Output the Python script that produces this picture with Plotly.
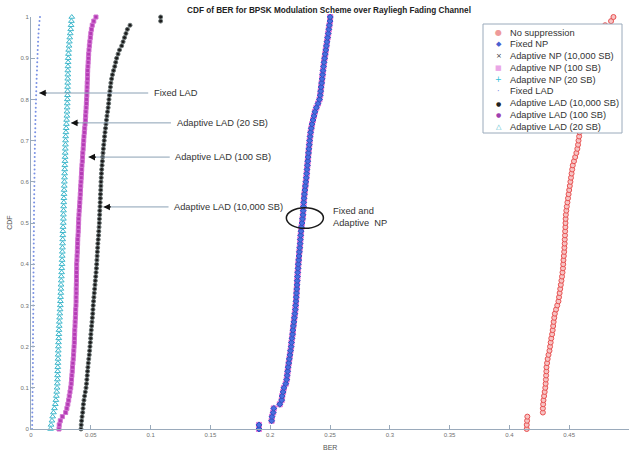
import plotly.graph_objects as go

# BER samples (sorted) for each scheme; the empirical CDF is built from them.
ber_no_suppression = [
    0.4145, 0.4145, 0.4148, 0.4150, 0.4280, 0.4280, 0.4282, 0.4285, 0.4290, 0.4295,
    0.4300, 0.4303, 0.4305, 0.4307, 0.4309, 0.4310, 0.4315, 0.4320, 0.4327, 0.4335,
    0.4340, 0.4345, 0.4350, 0.4357, 0.4362, 0.4366, 0.4370, 0.4375, 0.4380, 0.4390,
    0.4400, 0.4410, 0.4415, 0.4420, 0.4425, 0.4430, 0.4435, 0.4440, 0.4444, 0.4448,
    0.4450, 0.4452, 0.4455, 0.4458, 0.4460, 0.4462, 0.4463, 0.4465, 0.4466, 0.4468,
    0.4469, 0.4470, 0.4472, 0.4476, 0.4480, 0.4485, 0.4490, 0.4495, 0.4500, 0.4505,
    0.4510, 0.4515, 0.4520, 0.4525, 0.4530, 0.4540, 0.4550, 0.4560, 0.4568, 0.4574,
    0.4578, 0.4583, 0.4587, 0.4590, 0.4594, 0.4598, 0.4602, 0.4606, 0.4610, 0.4614,
    0.4618, 0.4622, 0.4626, 0.4630, 0.4634, 0.4638, 0.4642, 0.4646, 0.4650, 0.4655,
    0.4660, 0.4665, 0.4670, 0.4676, 0.4682, 0.4690, 0.4700, 0.4720, 0.4800, 0.4850,
    0.4870,
]

# Fixed and adaptive NP give practically the same BER distribution
ber_np = [
    0.1906, 0.1906, 0.2012, 0.2015, 0.2025, 0.2030, 0.2080, 0.2096, 0.2100, 0.2108,
    0.2115, 0.2130, 0.2138, 0.2142, 0.2146, 0.2150, 0.2155, 0.2160, 0.2165, 0.2170,
    0.2175, 0.2178, 0.2182, 0.2187, 0.2190, 0.2194, 0.2198, 0.2202, 0.2206, 0.2210,
    0.2213, 0.2216, 0.2218, 0.2220, 0.2222, 0.2224, 0.2226, 0.2228, 0.2230, 0.2233,
    0.2235, 0.2238, 0.2241, 0.2244, 0.2247, 0.2250, 0.2252, 0.2255, 0.2258, 0.2261,
    0.2266, 0.2270, 0.2274, 0.2276, 0.2278, 0.2280, 0.2283, 0.2286, 0.2290, 0.2294,
    0.2298, 0.2302, 0.2305, 0.2308, 0.2311, 0.2314, 0.2317, 0.2320, 0.2323, 0.2327,
    0.2330, 0.2334, 0.2338, 0.2344, 0.2350, 0.2358, 0.2366, 0.2374, 0.2386, 0.2400,
    0.2412, 0.2418, 0.2422, 0.2426, 0.2430, 0.2434, 0.2438, 0.2442, 0.2446, 0.2450,
    0.2455, 0.2460, 0.2465, 0.2470, 0.2475, 0.2480, 0.2485, 0.2490, 0.2495, 0.2500,
    0.2502,
]

ber_fixed_lad = [
    0.0009, 0.0010, 0.0010, 0.0011, 0.0011, 0.0012, 0.0012, 0.0012, 0.0013, 0.0013,
    0.0014, 0.0014, 0.0014, 0.0015, 0.0015, 0.0015, 0.0016, 0.0016, 0.0016, 0.0016,
    0.0017, 0.0017, 0.0017, 0.0017, 0.0018, 0.0018, 0.0018, 0.0018, 0.0019, 0.0019,
    0.0019, 0.0019, 0.0020, 0.0020, 0.0020, 0.0020, 0.0021, 0.0021, 0.0021, 0.0021,
    0.0022, 0.0022, 0.0022, 0.0022, 0.0023, 0.0023, 0.0023, 0.0023, 0.0024, 0.0024,
    0.0024, 0.0025, 0.0025, 0.0025, 0.0026, 0.0026, 0.0026, 0.0027, 0.0027, 0.0028,
    0.0028, 0.0029, 0.0029, 0.0030, 0.0030, 0.0031, 0.0031, 0.0032, 0.0032, 0.0033,
    0.0034, 0.0034, 0.0035, 0.0036, 0.0036, 0.0037, 0.0038, 0.0039, 0.0040, 0.0041,
    0.0042, 0.0043, 0.0044, 0.0045, 0.0046, 0.0047, 0.0048, 0.0050, 0.0051, 0.0052,
    0.0054, 0.0055, 0.0056, 0.0058, 0.0059, 0.0061, 0.0063, 0.0065, 0.0068, 0.0071,
    0.0075,
]

ber_lad_10000 = [
    0.0418, 0.0420, 0.0423, 0.0427, 0.0432, 0.0435, 0.0438, 0.0443, 0.0448, 0.0454,
    0.0460, 0.0464, 0.0467, 0.0470, 0.0473, 0.0476, 0.0479, 0.0483, 0.0487, 0.0490,
    0.0493, 0.0496, 0.0499, 0.0501, 0.0504, 0.0507, 0.0510, 0.0513, 0.0516, 0.0518,
    0.0520, 0.0523, 0.0526, 0.0529, 0.0532, 0.0535, 0.0538, 0.0541, 0.0544, 0.0547,
    0.0549, 0.0551, 0.0553, 0.0555, 0.0557, 0.0559, 0.0562, 0.0565, 0.0567, 0.0569,
    0.0571, 0.0572, 0.0574, 0.0575, 0.0577, 0.0578, 0.0580, 0.0581, 0.0583, 0.0584,
    0.0585, 0.0587, 0.0589, 0.0591, 0.0594, 0.0597, 0.0599, 0.0602, 0.0605, 0.0608,
    0.0612, 0.0615, 0.0619, 0.0623, 0.0627, 0.0631, 0.0635, 0.0640, 0.0645, 0.0649,
    0.0652, 0.0656, 0.0660, 0.0664, 0.0668, 0.0674, 0.0681, 0.0690, 0.0700, 0.0708,
    0.0716, 0.0728, 0.0740, 0.0758, 0.0770, 0.0782, 0.0794, 0.0806, 0.0828, 0.1084,
    0.1084,
]

ber_lad_100 = [
    0.0234, 0.0236, 0.0245, 0.0262, 0.0290, 0.0300, 0.0308, 0.0315, 0.0320, 0.0326,
    0.0332, 0.0336, 0.0339, 0.0342, 0.0345, 0.0347, 0.0350, 0.0353, 0.0356, 0.0358,
    0.0360, 0.0362, 0.0363, 0.0365, 0.0366, 0.0368, 0.0369, 0.0371, 0.0373, 0.0374,
    0.0376, 0.0377, 0.0377, 0.0378, 0.0378, 0.0379, 0.0380, 0.0380, 0.0381, 0.0382,
    0.0382, 0.0384, 0.0385, 0.0387, 0.0388, 0.0390, 0.0391, 0.0393, 0.0395, 0.0396,
    0.0398, 0.0399, 0.0401, 0.0403, 0.0406, 0.0408, 0.0410, 0.0412, 0.0414, 0.0416,
    0.0418, 0.0420, 0.0422, 0.0424, 0.0426, 0.0429, 0.0431, 0.0433, 0.0436, 0.0438,
    0.0441, 0.0443, 0.0446, 0.0449, 0.0452, 0.0455, 0.0457, 0.0459, 0.0461, 0.0463,
    0.0465, 0.0467, 0.0468, 0.0469, 0.0470, 0.0472, 0.0473, 0.0474, 0.0476, 0.0478,
    0.0480, 0.0482, 0.0485, 0.0488, 0.0492, 0.0496, 0.0500, 0.0505, 0.0512, 0.0525,
    0.0543,
]

ber_lad_20 = [
    0.0164, 0.0168, 0.0175, 0.0181, 0.0188, 0.0196, 0.0203, 0.0208, 0.0212, 0.0215,
    0.0218, 0.0220, 0.0221, 0.0222, 0.0223, 0.0224, 0.0225, 0.0226, 0.0227, 0.0228,
    0.0229, 0.0230, 0.0232, 0.0233, 0.0234, 0.0236, 0.0237, 0.0239, 0.0241, 0.0243,
    0.0245, 0.0246, 0.0247, 0.0249, 0.0250, 0.0251, 0.0253, 0.0254, 0.0256, 0.0257,
    0.0259, 0.0260, 0.0261, 0.0262, 0.0263, 0.0264, 0.0265, 0.0266, 0.0267, 0.0268,
    0.0270, 0.0271, 0.0271, 0.0272, 0.0273, 0.0274, 0.0275, 0.0276, 0.0277, 0.0278,
    0.0279, 0.0280, 0.0281, 0.0282, 0.0283, 0.0284, 0.0285, 0.0286, 0.0287, 0.0288,
    0.0289, 0.0290, 0.0292, 0.0294, 0.0296, 0.0298, 0.0300, 0.0301, 0.0302, 0.0303,
    0.0304, 0.0305, 0.0306, 0.0306, 0.0307, 0.0307, 0.0308, 0.0308, 0.0309, 0.0310,
    0.0311, 0.0313, 0.0315, 0.0318, 0.0321, 0.0324, 0.0328, 0.0332, 0.0335, 0.0338,
    0.0341,
]

x_ticks = [0, 0.05, 0.1, 0.15, 0.2, 0.25, 0.3, 0.35, 0.4, 0.45, 0.5]
y_ticks = [0, 0.1, 0.2, 0.3, 0.4, 0.5, 0.6, 0.7, 0.8, 0.9, 1]

# callouts: (label, BER at arrow tip, CDF level, BER where the label starts)
callout_labels = ["Fixed LAD", "Adaptive LAD (20 SB)", "Adaptive LAD (100 SB)", "Adaptive LAD (10,000 SB)"]
callout_tip_ber = [0.0068, 0.0334, 0.0480, 0.0605]
callout_cdf = [0.8155, 0.743, 0.660, 0.539]
callout_text_ber = [0.101, 0.120, 0.119, 0.118]


def ecdf(samples):
    s = sorted(samples)
    n = len(s)
    return s, [i / (n - 1) for i in range(n)]


FONT = "Liberation Sans, Arial, sans-serif"
SYMBOL_FONT = "DejaVu Sans, sans-serif"
AXIS_COLOR = "#9aaabb"
TEXT_SIZE = 9.3

# plot area in pixels (for placing the hand-built legend)
PX_L, PX_R, PX_T, PX_B = 31, 629, 17, 429


def paper_x(px):
    return (px - PX_L) / (PX_R - PX_L)


def paper_y(py):
    return (PX_B - py) / (PX_B - PX_T)


fig = go.Figure()
legend_entries = []  # (name, glyph, glyph colour, glyph size)


def add(name, samples, marker, glyph):
    x, y = ecdf(samples)
    fig.add_trace(go.Scatter(
        x=x, y=y, mode="markers", name=name, marker=marker,
        showlegend=False, cliponaxis=False,
    ))
    legend_entries.append((name,) + glyph)


# NP family drawn underneath so the fixed NP diamonds stay on top
add("Adaptive NP (100 SB)", ber_np,
    dict(symbol="square", size=5, color="#f0a8e8", line=dict(color="#e070d8", width=1)),
    ("■", "#eaa6e6", 7))
add("Adaptive NP (20 SB)", ber_np,
    dict(symbol="cross-thin", size=4, color="#30c0d8", line=dict(color="#30c0d8", width=1)),
    ("+", "#30c0d8", 8))
add("Adaptive NP (10,000 SB)", ber_np,
    dict(symbol="x-thin", size=3, color="#222222", line=dict(color="#222222", width=1)),
    ("×", "#333333", 7))
add("Fixed NP", ber_np,
    dict(symbol="diamond", size=4.5, color="#4a6ee0", line=dict(color="#3050c0", width=1)),
    ("◆", "#4a60d0", 7))
add("No suppression", ber_no_suppression,
    dict(symbol="circle", size=5, color="#f7c4c4", line=dict(color="#e85050", width=1)),
    ("●", "#ee9a9a", 8))
add("Fixed LAD", ber_fixed_lad,
    dict(symbol="circle", size=2, color="#7890e4"),
    ("·", "#7088e0", 8))
add("Adaptive LAD (10,000 SB)", ber_lad_10000,
    dict(symbol="circle", size=4, color="#1c1c1c", line=dict(color="#6a7474", width=1)),
    ("●", "#222222", 6))
add("Adaptive LAD (100 SB)", ber_lad_100,
    dict(symbol="square", size=4, color="#b43cb4", line=dict(color="#d070d0", width=1)),
    ("●", "#a040b0", 6))
add("Adaptive LAD (20 SB)", ber_lad_20,
    dict(symbol="triangle-up-open", size=5, color="#40b8cc", line=dict(width=1)),
    ("△", "#40b8cc", 7))

# callout arrows and labels
for label, tip, cdf, tx in zip(callout_labels, callout_tip_ber, callout_cdf, callout_text_ber):
    fig.add_shape(type="line", xref="x", yref="y", x0=tip, x1=tx - 0.003, y0=cdf, y1=cdf,
                  line=dict(color="#8aa0b4", width=1))
    fig.add_annotation(x=tip, y=cdf, xref="x", yref="y", text="", showarrow=True,
                       ax=9, ay=0, arrowhead=2, arrowsize=1.1, arrowwidth=1.2,
                       arrowcolor="#111111", standoff=0)
    fig.add_annotation(x=tx, y=cdf, xref="x", yref="y", text=label, showarrow=False,
                       xanchor="left", yanchor="middle",
                       font=dict(family=FONT, size=TEXT_SIZE, color="#333333"))

# ellipse marking the overlapping NP curves
fig.add_shape(type="circle", xref="x", yref="y", x0=0.2135, x1=0.2445, y0=0.487, y1=0.537,
              line=dict(color="#1a1a1a", width=1.5))
fig.add_annotation(x=0.251, y=0.514, xref="x", yref="y", text="Fixed and<br>Adaptive  NP",
                   showarrow=False, xanchor="left", yanchor="middle", align="left",
                   font=dict(family=FONT, size=TEXT_SIZE, color="#333333"))

# legend box, in the order the series are listed
legend_order = ["No suppression", "Fixed NP", "Adaptive NP (10,000 SB)", "Adaptive NP (100 SB)",
                "Adaptive NP (20 SB)", "Fixed LAD", "Adaptive LAD (10,000 SB)",
                "Adaptive LAD (100 SB)", "Adaptive LAD (20 SB)"]
glyphs = {e[0]: e[1:] for e in legend_entries}
fig.add_shape(type="rect", xref="paper", yref="paper", layer="above",
              x0=paper_x(483), x1=paper_x(622), y0=paper_y(133), y1=paper_y(24),
              fillcolor="white", line=dict(color=AXIS_COLOR, width=1))
row0, row_step = 32.7, 11.75
for i, name in enumerate(legend_order):
    gy = paper_y(row0 + i * row_step)
    g, gc, gs = glyphs[name]
    fig.add_annotation(x=paper_x(498.5), y=gy, xref="paper", yref="paper", text=g,
                       showarrow=False, xanchor="center", yanchor="middle",
                       font=dict(family=SYMBOL_FONT, size=gs, color=gc))
    fig.add_annotation(x=paper_x(508), y=gy, xref="paper", yref="paper", text=name,
                       showarrow=False, xanchor="left", yanchor="middle",
                       font=dict(family=FONT, size=TEXT_SIZE, color="#333333"))

# axis titles
fig.add_annotation(x=0.5, y=-0.044, xref="paper", yref="paper", text="BER", showarrow=False,
                   xanchor="center", yanchor="middle",
                   font=dict(family=FONT, size=7, color="#555555"))
fig.add_annotation(x=-0.037, y=0.5, xref="paper", yref="paper", text="CDF", showarrow=False,
                   textangle=-90, xanchor="center", yanchor="middle",
                   font=dict(family=FONT, size=7, color="#555555"))

fig.update_layout(
    width=632, height=454,
    margin=dict(l=PX_L, r=632 - PX_R, t=PX_T, b=454 - PX_B),
    paper_bgcolor="white", plot_bgcolor="white",
    title=dict(text="<b>CDF of BER for BPSK Modulation Scheme over Rayliegh Fading Channel</b>",
               x=329 / 632, xanchor="center", y=1 - 10 / 454, yanchor="middle",
               font=dict(family=FONT, size=8.2, color="#222222")),
    showlegend=False,
    xaxis=dict(range=[0, 0.5], tickvals=x_ticks, ticktext=[f"{v:g}" for v in x_ticks],
               showgrid=False, zeroline=False, showline=True, linecolor=AXIS_COLOR, linewidth=1,
               ticks="inside", ticklen=4, tickcolor=AXIS_COLOR,
               tickfont=dict(family=FONT, size=6, color="#707070")),
    yaxis=dict(range=[0, 1], tickvals=y_ticks, ticktext=[f"{v:g}" for v in y_ticks],
               showgrid=False, zeroline=False, showline=True, linecolor=AXIS_COLOR, linewidth=1,
               ticks="inside", ticklen=4, tickcolor=AXIS_COLOR,
               tickfont=dict(family=FONT, size=6, color="#707070")),
)

fig.write_html("out.html")
